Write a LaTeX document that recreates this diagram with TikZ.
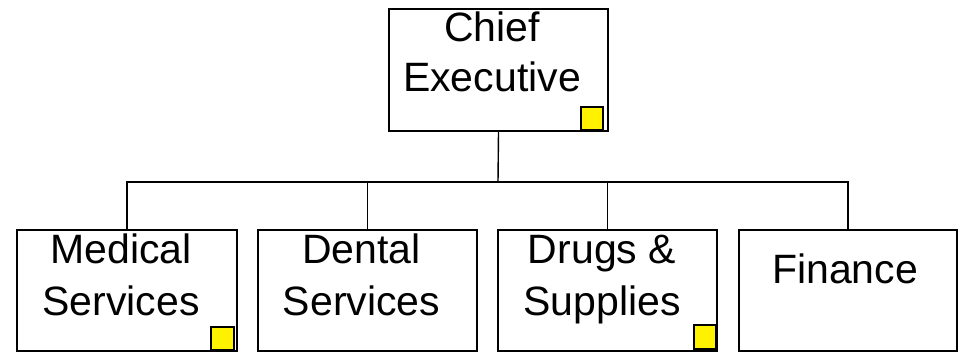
\documentclass[tikz,border=0pt]{standalone}
\usepackage{fontspec}
\setmainfont{Liberation Sans}
\begin{document}
\begin{tikzpicture}[x=1pt,y=-1pt,
  box/.style={draw=black,line width=1.4pt,fill=white,rectangle,inner sep=0pt},
  lbl/.style={anchor=base,inner sep=0pt,align=center,font=\fontsize{41}{52}\selectfont},
  marker/.style={draw=black,line width=1.2pt,fill=yellow},
  conn/.style={draw=black,line width=1.4pt}]
\useasboundingbox (0,0) rectangle (964,353);
% boxes
\node[box,minimum width=219pt,minimum height=122pt] (ce) at (498.5,70) {};
\node[box,minimum width=220pt,minimum height=121pt] (med) at (127,290.5) {};
\node[box,minimum width=219pt,minimum height=121pt] (den) at (367.5,290.5) {};
\node[box,minimum width=219pt,minimum height=121pt] (drg) at (607.5,290.5) {};
\node[box,minimum width=218pt,minimum height=121pt] (fin) at (848,290.5) {};
% labels
\node[lbl,font=\fontsize{41}{50}\selectfont] (cet) at (492,92) {Chief\\Executive};
\node[lbl] (medt) at (121,315) {Medical\\Services};
\node[lbl] (dent) at (361.5,315) {Dental\\Services};
\node[lbl] (drgt) at (602,315) {Drugs \&\\Supplies};
\node[lbl] (fint) at (845,283) {Finance};
% markers
\draw[marker] (581,107) rectangle (603,130);
\draw[marker] (211,327) rectangle (234,350);
\draw[marker] (694,325) rectangle (716,349);
% connectors
\coordinate (bus) at (498,182);
\draw[conn] (ce.south) -- (bus);
\draw[conn] (med.north) |- (bus) -| (fin.north);
\draw[conn] (den.north) -- (den.north |- bus);
\draw[conn] (drg.north) -- (drg.north |- bus);
\end{tikzpicture}
\end{document}
